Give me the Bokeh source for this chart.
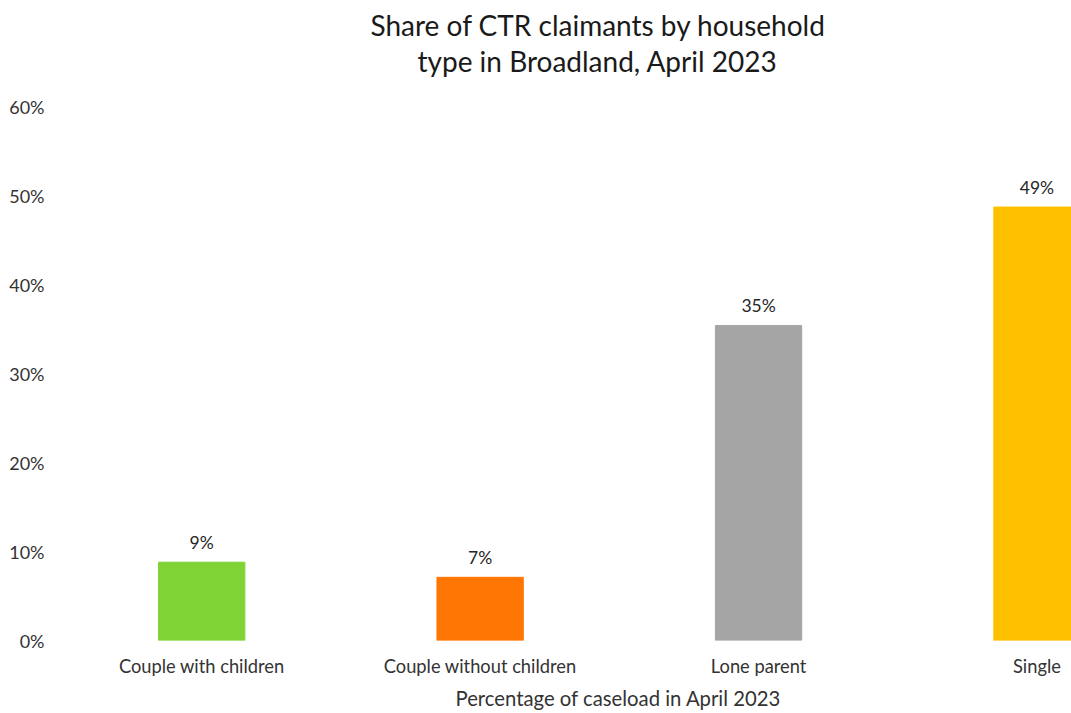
from bokeh.plotting import figure
from bokeh.models import Range1d, FixedTicker, Title, ColumnDataSource
from bokeh.core.properties import value
from bokeh.embed import file_html
from bokeh.resources import INLINE

categories = ["Couple with children", "Couple without children", "Lone parent", "Single"]
shares = [8.8, 7.1, 35.4, 48.7]
colors = ["#7FD335", "#FF7605", "#A5A5A5", "#FFC000"]
y_ticks = [0, 10, 20, 30, 40, 50, 60]
title_lines = ["Share of CTR claimants by household", "type in Broadland, April 2023"]
x_title = "Percentage of caseload in April 2023"

FONT = "Lato"
idx = list(range(len(categories)))
src = ColumnDataSource(dict(
    x=idx, top=shares, color=colors,
    lab=[f"{round(v)}%" for v in shares],
))

p = figure(width=1071, height=713, output_backend="svg", toolbar_location=None,
           x_range=Range1d(-0.5, 3.124), y_range=Range1d(0, 60),
           min_border_left=62, min_border_right=0, min_border_top=106, min_border_bottom=73)
p.outline_line_color = None
p.grid.grid_line_color = None

p.vbar(x="x", top="top", width=0.31, color="color", source=src)
p.text(x="x", y="top", text="lab", source=src, text_align="center", text_baseline="bottom",
       y_offset=-9, text_font=value(FONT), text_font_size="17.5px", text_color="#262626")

for ax in (p.xaxis, p.yaxis):
    ax.axis_line_color = None
    ax.major_tick_line_color = None
    ax.minor_tick_line_color = None
    ax.major_tick_out = 0
    ax.major_tick_in = 0
    ax.minor_tick_out = 0
    ax.major_label_text_font = FONT
    ax.major_label_text_color = "#333333"

p.yaxis.ticker = FixedTicker(ticks=y_ticks)
p.yaxis.major_label_overrides = {t: f"{t}%" for t in y_ticks}
p.yaxis.major_label_standoff = 18
p.yaxis.major_label_text_font_size = "18px"

p.xaxis.ticker = FixedTicker(ticks=idx)
p.xaxis.major_label_overrides = {i: c for i, c in zip(idx, categories)}
p.xaxis.major_label_standoff = 14
p.xaxis.major_label_text_font_size = "18.3px"

spacer = Title(text=" ", text_font_size="1px", standoff=26)
t2 = Title(text=title_lines[1], align="left", offset=355, text_font=FONT,
           text_font_size="28px", text_font_style="normal", text_color="#1a1a1a", standoff=0)
t1 = Title(text=title_lines[0], align="left", offset=308, text_font=FONT,
           text_font_size="28px", text_font_style="normal", text_color="#1a1a1a", standoff=0)
p.add_layout(spacer, "above")
p.add_layout(t2, "above")
p.add_layout(t1, "above")
p.add_layout(Title(text=x_title, align="left", offset=393, text_font=FONT,
                   text_font_size="20.3px", text_font_style="normal", text_color="#333333",
                   standoff=8), "below")

open("out.html", "w").write(file_html(p, INLINE))
